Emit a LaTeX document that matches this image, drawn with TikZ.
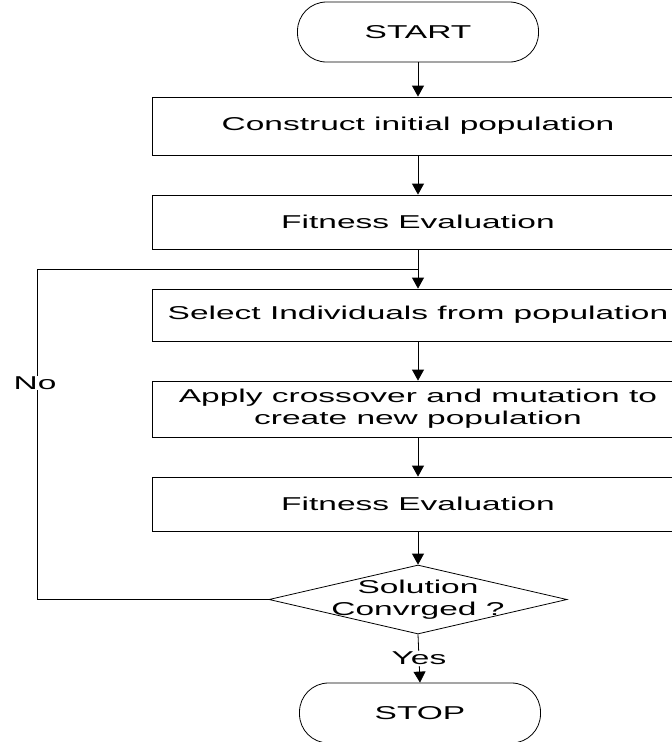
\documentclass[tikz,border=0pt]{standalone}
\usepackage{fontspec}
\setmainfont{Liberation Sans}
\usetikzlibrary{arrows.meta,shapes.geometric}
% broad lettering for all labels
\newcommand{\widetext}[1]{\scalebox{1.8}[1]{#1}}

\begin{document}
\begin{tikzpicture}[
  x=1pt, y=-1pt,
  font=\fontsize{18.6}{22}\selectfont,
  line width=0.8pt,
  terminal/.style={draw, rounded corners=29pt, minimum width=241pt,
    minimum height=60pt, inner sep=0pt},
  procbox/.style={draw, minimum width=532pt, inner sep=0pt, align=center},
  decision/.style={draw, diamond, minimum width=298pt, minimum height=69pt,
    inner sep=0pt},
  flow/.style={-{Triangle[width=12pt,length=11pt]}},
  tag/.style={fill=white, inner sep=1pt}
]
\clip (0,0) rectangle (672,742);

% terminals, process boxes and the test
\node[terminal] (start) at (418,32) {\widetext{START}};
\node[procbox, minimum height=58pt] (init) at (418,126) {\widetext{Construct initial population}};
\node[procbox, minimum height=54pt] (eval1) at (418,222) {\widetext{Fitness Evaluation}};
\node[procbox, minimum height=52pt] (select) at (418,315) {\widetext{Select Individuals from population}};
\node[procbox, minimum height=56pt] (cross) at (418,409)
  {\widetext{Apply crossover and mutation to}\\\widetext{create new population}};
\node[procbox, minimum height=54pt] (eval2) at (418,504) {\widetext{Fitness Evaluation}};
\node[decision] (test) at (418,599.5) {};
\node[align=center, inner sep=0pt] (testtext) at (test.center)
  {\widetext{Solution}\\\widetext{Convrged ?}};
\node[terminal] (stop) at (420,713) {\widetext{STOP}};

% loop-back corner points
\coordinate (join) at (418,269);
\coordinate (corner) at (37,269);

% main flow
\draw[flow] (start) -- (init);
\draw[flow] (init) -- (eval1);
\draw[flow] (eval1) -- (select);
\draw[flow] (select) -- (cross);
\draw[flow] (cross) -- (eval2);
\draw[flow] (eval2) -- (test);
\draw[flow] (test.south) -- node[tag, pos=0.5] (yes) {\widetext{Yes}} (stop.north);

% "No" branch back to selection
\draw (test.west) -| (corner) -- (join);
\node[tag] (no) at (35,383) {\widetext{No}};
\end{tikzpicture}
\end{document}
